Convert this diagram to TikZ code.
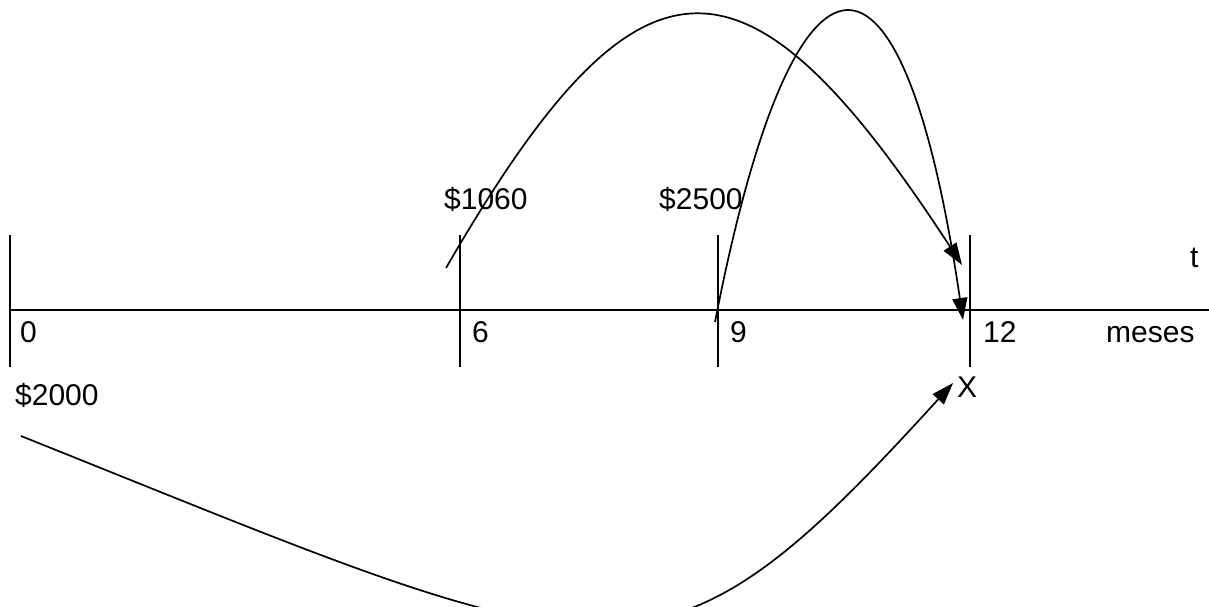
\documentclass[tikz,border=0pt]{standalone}
\usepackage{fontspec}
\setmainfont{Liberation Sans}
\usetikzlibrary{arrows.meta}
\begin{document}
\begin{tikzpicture}[x=1pt,y=-1pt,
  lbl/.style={font=\fontsize{30}{35}\selectfont, inner sep=0pt, anchor=base west},
  axisline/.style={line width=1.8pt},
  tickline/.style={line width=1.6pt},
  flow/.style={line width=1.7pt, -{Triangle[length=22pt,width=15pt]}}]
\useasboundingbox (0,0) rectangle (1209,606);
\clip (0,0) rectangle (1209,606);
% axis
\coordinate (ax0) at (10,310);
\coordinate (ax1) at (1209,310);
\draw[axisline] (ax0) -- (ax1);
% ticks
\foreach \n/\x in {t0/10,t6/460,t9/718,t12/970}{
  \coordinate (\n top) at (\x,235);
  \coordinate (\n bot) at (\x,367);
  \draw[tickline] (\n top) -- (\n bot);
}
% labels
\node[lbl] (l0) at (20,342) {0};
\node[lbl] (l6) at (472,342) {6};
\node[lbl] (l9) at (730,342) {9};
\node[lbl] (l12) at (983,342) {12};
\node[lbl] (lmeses) at (1106,342) {meses};
\node[lbl] (lt) at (1190,267) {t};
\node[lbl] (p1060) at (444,209) {\$1060};
\node[lbl] (p2500) at (659,209) {\$2500};
\node[lbl] (p2000) at (15,405) {\$2000};
\node[lbl] (lx) at (957,397) {X};
% flows
\coordinate (s1) at (446,268);
\coordinate (e1) at (962,265);
\coordinate (s2) at (715,322);
\coordinate (e2) at (963,320);
\coordinate (s3) at (21,436);
\coordinate (e3) at (953,383);
\draw[flow] (s1) .. controls (640,-68) and (745,-68) .. (e1);
\draw[flow] (s2) .. controls (795,-90) and (903,-90) .. (e2);
\draw[flow] (s3) .. controls (621,676) and (653,713) .. (e3);
\end{tikzpicture}
\end{document}
